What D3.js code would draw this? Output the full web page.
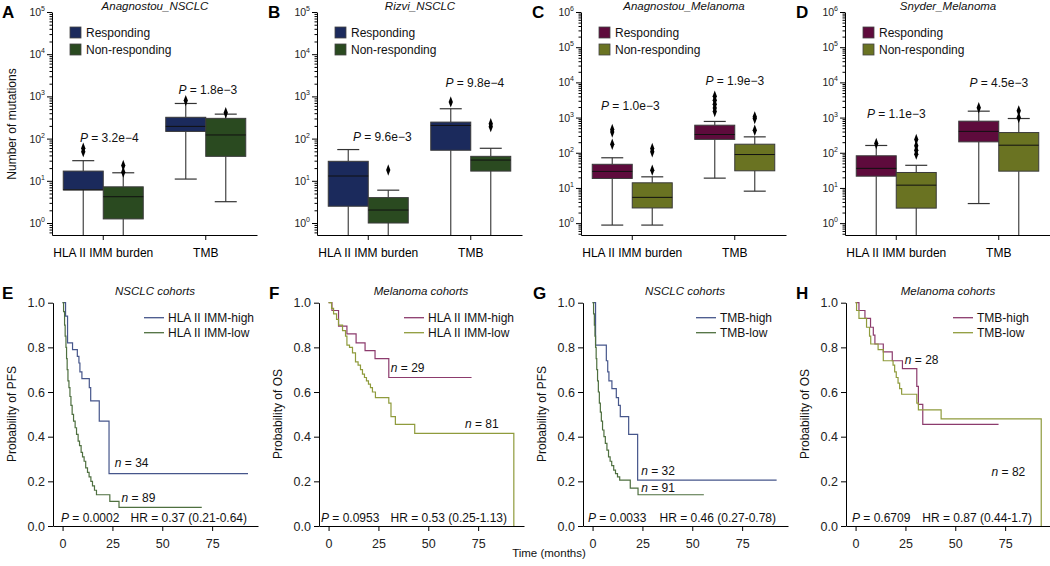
<!DOCTYPE html>
<html><head><meta charset="utf-8">
<script src="https://cdn.jsdelivr.net/npm/d3@7"></script>
<style>
body{margin:0;background:#fff;}
svg{font-family:"Liberation Sans",Arial,Helvetica,sans-serif;}
</style></head><body>
<svg id="c" width="1050" height="566"></svg>
<script>
// ---------------- DATA ----------------
const boxCategories = ["HLA II IMM burden", "TMB"];
const boxGroups = ["Responding", "Non-responding"];
const boxTitles = ["Anagnostou_NSCLC", "Rizvi_NSCLC", "Anagnostou_Melanoma", "Snyder_Melanoma"];
// [whiskerLow, Q1, median, Q3, whiskerHigh]; order: HLA-resp, HLA-non, TMB-resp, TMB-non (0 = down to axis)
const boxStatsA = [[0, 6.1, 6.1, 17, 30], [0, 1.25, 4.2, 7.2, 15.5], [11, 148, 195, 320, 680], [3.2, 38, 122, 302, 380]];
const boxStatsB = [[0, 2.5, 13, 29, 55], [0, 1.0, 2.03, 4.0, 6.0], [0, 53, 205, 246, 510], [0, 17, 31, 38, 59]];
const boxStatsC = [[0.88, 18.6, 29.5, 47, 72], [0.88, 2.7, 5.4, 14, 20.7], [19, 240, 330, 607, 776], [8.1, 30.7, 89, 175, 283]];
const boxStatsD = [[0, 21.6, 36, 82, 161], [0, 2.67, 12, 27.5, 44], [3.6, 204, 405, 790, 1520], [0, 30, 164, 375, 940]];
const outliersA = [[49, 59], [16, 23], [795], [410]];
const outliersB = [[], [18], [740], [192, 225]];
const outliersC = [[175, 390, 460], [32, 107, 133], [1480, 1860, 2400, 3100, 4060], [437, 940, 1050]];
const outliersD = [[183], [91, 118, 158, 240], [1900], [1000, 1550]];
const pValuesA = ["3.2e\u22124", "1.8e\u22123"];
const pValuesB = ["9.6e\u22123", "9.8e\u22124"];
const pValuesC = ["1.0e\u22123", "1.9e\u22123"];
const pValuesD = ["1.1e\u22123", "4.5e\u22123"];

const kmTitles = ["NSCLC cohorts", "Melanoma cohorts", "NSCLC cohorts", "Melanoma cohorts"];
const kmYLabels = ["Probability of PFS", "Probability of OS", "Probability of PFS", "Probability of OS"];
const kmLegendE = ["HLA II IMM-high", "HLA II IMM-low"];
const kmLegendG = ["TMB-high", "TMB-low"];
const kmXTicks = [0, 25, 50, 75];
const kmYTicks = [0, 0.2, 0.4, 0.6, 0.8, 1.0];
// [month, survival]
const kmEhigh = [[0,1],[1.5,0.94],[2.5,0.82],[5,0.79],[7.4,0.76],[8.2,0.73],[8.7,0.69],[9.7,0.66],[13.4,0.62],[14.1,0.56],[18.4,0.47],[23.3,0.235],[93,0.235]];
const kmElow = [[0,1],[0.5,0.96],[1,0.9],[1.3,0.85],[1.7,0.8],[2,0.75],[2.3,0.7],[2.7,0.65],[3.2,0.62],[3.7,0.58],[4.2,0.54],[4.8,0.5],[5.5,0.47],[6.3,0.44],[7,0.41],[7.8,0.38],[8.5,0.36],[9.3,0.33],[10,0.31],[10.8,0.29],[11.6,0.26],[12.5,0.24],[13.3,0.22],[14.2,0.2],[15,0.18],[16,0.16],[17,0.14],[23.7,0.11],[28.3,0.083],[69.8,0.083]];
const kmFhigh = [[0,1],[1.7,0.965],[5,0.895],[9.2,0.86],[13.8,0.82],[18.3,0.785],[23.3,0.75],[30.2,0.665],[71.7,0.665]];
const kmFlow = [[0,1],[1.5,0.975],[2.5,0.95],[4,0.925],[5,0.9],[7,0.875],[8.5,0.85],[9.2,0.81],[10.5,0.8],[12,0.775],[13.5,0.735],[14.8,0.72],[16,0.7],[17,0.68],[18,0.665],[19,0.65],[20,0.635],[21,0.62],[22,0.6],[23.5,0.575],[30.2,0.55],[31.3,0.49],[33.5,0.455],[43.2,0.415],[92.9,0]];
const kmGhigh = [[0,1],[1.5,0.81],[6.9,0.74],[7.6,0.69],[8.2,0.65],[9.7,0.615],[11.9,0.575],[13,0.54],[13.9,0.49],[18.1,0.41],[22.6,0.205],[92.3,0.205]];
const kmGlow = [[0,1],[0.5,0.95],[0.9,0.9],[1.2,0.85],[1.5,0.8],[1.8,0.75],[2.1,0.7],[2.5,0.65],[2.9,0.6],[3.4,0.55],[3.9,0.51],[4.4,0.47],[5,0.43],[5.7,0.4],[6.4,0.37],[7.2,0.34],[8,0.31],[8.8,0.29],[9.6,0.27],[10.6,0.25],[11.5,0.235],[12.5,0.22],[13.6,0.205],[18.9,0.17],[22.8,0.14],[55.8,0.14]];
const kmHhigh = [[0,1],[1.7,0.965],[4.7,0.93],[7.5,0.89],[8.9,0.855],[9.7,0.815],[13.9,0.78],[18.4,0.74],[23.5,0.705],[30.7,0.625],[31.5,0.545],[33.7,0.455],[71.7,0.455]];
const kmHlow = [[0,1],[0.5,0.965],[1.7,0.93],[5.5,0.89],[7,0.85],[7.6,0.815],[11.3,0.79],[13.9,0.74],[18.8,0.72],[19.6,0.69],[20.4,0.665],[21.3,0.64],[22.1,0.615],[23.1,0.59],[30.7,0.55],[31.5,0.52],[42.9,0.48],[93.1,0]];
const kmN = [["34","89"],["29","81"],["32","91"],["28","82"]];
const kmP = ["0.0002", "0.0953", "0.0033", "0.6709"];
const kmHR = ["0.37 (0.21-0.64)", "0.53 (0.25-1.13)", "0.46 (0.27-0.78)", "0.87 (0.44-1.7)"];

// ---------------- LAYOUT ----------------
const svg = d3.select("#c");
const W = 205;
const FONT = '"Liberation Sans",Arial,Helvetica,sans-serif';
const nsclcBox = ["#1b2a5c", "#2a4a20"];
const melBox = ["#5e0b3c", "#6a7322"];
const nsclcKM = ["#46568b", "#4e6f3f"];
const melKM = ["#8c3b6d", "#8f9b3c"];

const topX0 = [52, 317, 581, 845];
const topLetters = ["A", "B", "C", "D"];
const topLo = [0.52, 0.52, 0.46, 0.46];
const topHi = [1e5, 1e5, 1e6, 1e6];
const allStats = [boxStatsA, boxStatsB, boxStatsC, boxStatsD];
const allOut = [outliersA, outliersB, outliersC, outliersD];
const allP = [pValuesA, pValuesB, pValuesC, pValuesD];
const pAnchor = [[83, 1140], [88, 1670], [1620, 8300], [960, 7300]];
const pDx = [[6, 2], [14, 4], [-2, 0], [0, 0]];

function styleAxis(g, size) {
  g.attr("font-family", FONT).attr("font-size", size);
  g.selectAll("path,line").attr("stroke", "#000").attr("stroke-width", 1);
  g.selectAll("text").attr("fill", "#000");
}

topX0.forEach((x0, pi) => {
  const cols = pi < 2 ? nsclcBox : melBox;
  const g = svg.append("g");
  const y = d3.scaleLog().domain([topLo[pi], topHi[pi]]).range([235, 12]);
  const x = d3.scaleBand().domain(boxCategories).range([x0, x0 + W]);
  const sub = d3.scaleBand().domain(boxGroups).range([-40, 40]);
  const nDec = Math.round(Math.log10(topHi[pi]));
  const majors = d3.range(0, nDec + 1).map(e => Math.pow(10, e));
  const minors = y.ticks().filter(v => !majors.some(m => Math.abs(m - v) / m < 1e-9));

  // minor ticks
  const gm = g.append("g").attr("transform", `translate(${x0},0)`)
    .call(d3.axisLeft(y).tickValues(minors).tickSize(2.5).tickSizeOuter(0).tickFormat(""));
  gm.select(".domain").remove();
  styleAxis(gm, 10);
  // major ticks
  const ga = g.append("g").attr("transform", `translate(${x0},0)`)
    .call(d3.axisLeft(y).tickValues(majors).tickSize(5).tickSizeOuter(0).tickFormat(""));
  styleAxis(ga, 10);
  majors.forEach((v, e) => {
    const t = g.append("text").attr("x", x0 - 7).attr("y", y(v) + 4)
      .attr("text-anchor", "end").attr("font-size", 10.5).attr("fill", "#222");
    t.append("tspan").text("10");
    t.append("tspan").attr("font-size", 7).attr("dy", -5).text(String(e));
  });
  // x axis
  const gx = g.append("g").attr("transform", "translate(0,235)")
    .call(d3.axisBottom(x).tickSize(5).tickSizeOuter(0));
  styleAxis(gx, 12);
  gx.selectAll("text").attr("dy", "1.2em");

  // boxes
  boxCategories.forEach((cat, ci) => {
    boxGroups.forEach((grp, gi) => {
      const s = allStats[pi][ci * 2 + gi];
      const left = x(cat) + x.bandwidth() / 2 + sub(grp);
      const bw = sub.bandwidth();
      const cx = left + bw / 2;
      const yLo = y(Math.max(s[0], topLo[pi]));
      g.append("line").attr("x1", cx).attr("x2", cx).attr("y1", yLo).attr("y2", y(s[1]))
        .attr("stroke", "#444").attr("stroke-width", 1.2);
      g.append("line").attr("x1", cx).attr("x2", cx).attr("y1", y(s[3])).attr("y2", y(s[4]))
        .attr("stroke", "#444").attr("stroke-width", 1.2);
      g.append("line").attr("x1", cx - 11).attr("x2", cx + 11).attr("y1", y(s[4])).attr("y2", y(s[4]))
        .attr("stroke", "#333").attr("stroke-width", 1.2);
      if (s[0] > 0) {
        g.append("line").attr("x1", cx - 11).attr("x2", cx + 11).attr("y1", yLo).attr("y2", yLo)
          .attr("stroke", "#333").attr("stroke-width", 1.2);
      }
      g.append("rect").attr("x", left).attr("width", bw)
        .attr("y", y(s[3])).attr("height", y(s[1]) - y(s[3]))
        .attr("fill", cols[gi]).attr("stroke", "#3a3a3a").attr("stroke-width", 1);
      g.append("line").attr("x1", left).attr("x2", left + bw).attr("y1", y(s[2])).attr("y2", y(s[2]))
        .attr("stroke", "#111").attr("stroke-width", 1);
      allOut[pi][ci * 2 + gi].forEach(v => {
        g.append("path").attr("d", d3.symbol(d3.symbolDiamond, 22)())
          .attr("transform", `translate(${cx},${y(v)}) scale(0.85,1.3)`)
          .attr("fill", "#000");
      });
    });
    // p-value label
    const pt = g.append("text").attr("x", x(cat) + x.bandwidth() / 2 + pDx[pi][ci])
      .attr("y", y(pAnchor[pi][ci])).attr("text-anchor", "middle").attr("font-size", 12).attr("fill", "#111");
    pt.append("tspan").attr("font-style", "italic").text("P");
    pt.append("tspan").text(" = " + allP[pi][ci]);
  });

  // legend
  boxGroups.forEach((grp, gi) => {
    g.append("rect").attr("x", x0 + 18).attr("y", 27 + gi * 17).attr("width", 11).attr("height", 11)
      .attr("fill", cols[gi]).attr("stroke", "#444").attr("stroke-width", 0.8);
    g.append("text").attr("x", x0 + 34).attr("y", 37 + gi * 17).attr("font-size", 12).attr("fill", "#111").text(grp);
  });
  // title
  g.append("text").attr("x", x0 + 103).attr("y", 10).attr("text-anchor", "middle")
    .attr("font-size", 11.5).attr("font-style", "italic").attr("fill", "#111").text(boxTitles[pi]);
  // letter
  g.append("text").attr("x", x0 - 50 + (pi === 0 ? 0 : 1)).attr("y", 18).attr("font-size", 17)
    .attr("font-weight", "bold").attr("fill", "#000").text(topLetters[pi]);
});
// top y label
svg.append("text").attr("transform", "translate(16,124) rotate(-90)").attr("text-anchor", "middle")
  .attr("font-size", 12).attr("fill", "#111").text("Number of mutations");

// ---------------- KM panels ----------------
const kmX0 = [53, 319, 583, 846];
const kmLetters = ["E", "F", "G", "H"];
const kmCurves = [[kmEhigh, kmElow], [kmFhigh, kmFlow], [kmGhigh, kmGlow], [kmHhigh, kmHlow]];
const kmLegends = [kmLegendE, kmLegendE, kmLegendG, kmLegendG];
const kmLegX = [91, 85, 113, 107];
const kmNPos = [[[26.2, 0.265], [29.6, 0.107]], [[31.2, 0.69], [68.4, 0.44]], [[24.4, 0.228], [24.4, 0.152]], [[24.7, 0.725], [68.2, 0.224]]];
const kmHREnd = [194, 188, 193, 186];
const kmPX = [8, 2, 5, 6];

kmX0.forEach((x0, pi) => {
  const cols = (pi % 2 === 0) ? nsclcKM : melKM;
  const g = svg.append("g");
  const y = d3.scaleLinear().domain([0, 1]).range([526, 302.7]);
  const x = d3.scaleLinear().domain([-4.8, 98]).range([x0, x0 + W]);
  const gy = g.append("g").attr("transform", `translate(${x0},0)`)
    .call(d3.axisLeft(y).tickValues(kmYTicks).tickFormat(d3.format(".1f")).tickSize(5).tickSizeOuter(0));
  styleAxis(gy, 12.5);
  gy.selectAll("text").attr("fill", "#222");
  const gx = g.append("g").attr("transform", "translate(0,526)")
    .call(d3.axisBottom(x).tickValues(kmXTicks).tickSize(5).tickSizeOuter(0));
  styleAxis(gx, 12.5);
  gx.selectAll("text").attr("fill", "#222").attr("dy", "1.1em");

  const line = d3.line().x(d => x(d[0])).y(d => y(d[1])).curve(d3.curveStepAfter);
  kmCurves[pi].forEach((c, ci) => {
    g.append("path").attr("d", line(c)).attr("fill", "none")
      .attr("stroke", cols[ci]).attr("stroke-width", 1.2);
  });
  // legend
  kmLegends[pi].forEach((lab, li) => {
    const ly = 317.7 + li * 15;
    g.append("line").attr("x1", x0 + kmLegX[pi]).attr("x2", x0 + kmLegX[pi] + 20).attr("y1", ly).attr("y2", ly)
      .attr("stroke", cols[li]).attr("stroke-width", 1.3);
    g.append("text").attr("x", x0 + kmLegX[pi] + 24).attr("y", ly + 4.3).attr("font-size", 12)
      .attr("fill", "#111").text(lab);
  });
  // n labels
  kmN[pi].forEach((n, ni) => {
    const p = kmNPos[pi][ni];
    const t = g.append("text").attr("x", x(p[0])).attr("y", y(p[1])).attr("font-size", 12).attr("fill", "#111");
    t.append("tspan").attr("font-style", "italic").text("n");
    t.append("tspan").text(" = " + n);
  });
  // P and HR
  const pt = g.append("text").attr("x", x0 + kmPX[pi]).attr("y", 522).attr("font-size", 12).attr("fill", "#111");
  pt.append("tspan").attr("font-style", "italic").text("P");
  pt.append("tspan").text(" = " + kmP[pi]);
  g.append("text").attr("x", x0 + kmHREnd[pi]).attr("y", 522).attr("text-anchor", "end")
    .attr("font-size", 12).attr("fill", "#111").text("HR = " + kmHR[pi]);
  // title
  g.append("text").attr("x", x0 + 102).attr("y", 295).attr("text-anchor", "middle")
    .attr("font-size", 11.5).attr("font-style", "italic").attr("fill", "#111").text(kmTitles[pi]);
  // y label
  g.append("text").attr("transform", `translate(${x0 - 37},414) rotate(-90)`).attr("text-anchor", "middle")
    .attr("font-size", 12).attr("fill", "#111").text(kmYLabels[pi]);
  // letter
  g.append("text").attr("x", x0 - 51 + (pi === 0 ? 0 : 1)).attr("y", 299).attr("font-size", 17)
    .attr("font-weight", "bold").attr("fill", "#000").text(kmLetters[pi]);
});
svg.append("text").attr("x", 549).attr("y", 557).attr("text-anchor", "middle")
  .attr("font-size", 11.5).attr("fill", "#111").text("Time (months)");
</script>
</body></html>
